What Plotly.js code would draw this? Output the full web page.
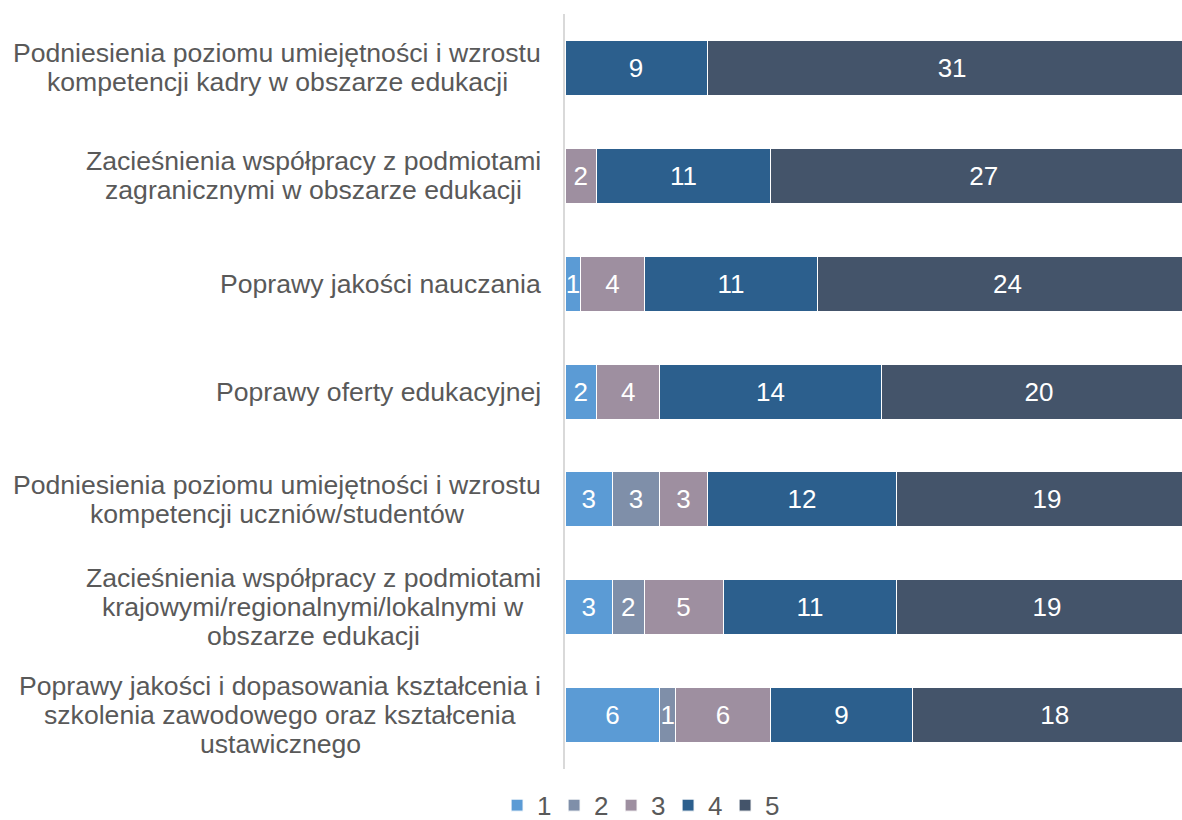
<!DOCTYPE html>
<html>
<head>
<meta charset="utf-8">
<script src="https://cdn.plot.ly/plotly-3.0.1.min.js"></script>
<style>
html, body { margin: 0; padding: 0; overflow: hidden; background: #ffffff; }
#chart { width: 1200px; height: 820px; }
</style>
</head>
<body>
<div id="chart"></div>
<script>
// Category labels (lines as wrapped in the reference)
const categoryLines = [
  ["Podniesienia poziomu umiejętności i wzrostu", "kompetencji kadry w obszarze edukacji"],
  ["Zacieśnienia współpracy z podmiotami", "zagranicznymi w obszarze edukacji"],
  ["Poprawy jakości nauczania"],
  ["Poprawy oferty edukacyjnej"],
  ["Podniesienia poziomu umiejętności i wzrostu", "kompetencji uczniów/studentów"],
  ["Zacieśnienia współpracy z podmiotami", "krajowymi/regionalnymi/lokalnymi w", "obszarze edukacji"],
  ["Poprawy jakości i dopasowania kształcenia i", "szkolenia zawodowego oraz kształcenia", "ustawicznego"]
];
const categories = categoryLines.map(l => l.join(" "));

const seriesNames = ["1", "2", "3", "4", "5"];
const s1 = [null, null, 1, 2, 3, 3, 6];
const s2 = [null, null, null, null, 3, 2, 1];
const s3 = [null, 2, 4, 4, 3, 5, 6];
const s4 = [9, 11, 11, 14, 12, 11, 9];
const s5 = [31, 27, 24, 20, 19, 19, 18];
const seriesValues = [s1, s2, s3, s4, s5];
const colors = ["#5B9BD5", "#7F8FA9", "#9E8FA0", "#2C5F8D", "#44546A"];

const FONT = '"Liberation Sans", Arial, sans-serif';

const traces = seriesValues.map((vals, i) => ({
  type: "bar",
  orientation: "h",
  name: seriesNames[i],
  y: categories,
  x: vals,
  marker: { color: colors[i], line: { color: "#ffffff", width: 1 } },
  texttemplate: "%{x}",
  textposition: "inside",
  insidetextanchor: "middle",
  constraintext: "none",
  textfont: { color: "#ffffff", size: 26, family: FONT },
  hoverinfo: "skip"
}));

// Category labels: each line centered within its block, right edge near the axis
const canvas = document.createElement("canvas");
const ctx = canvas.getContext("2d");
const labelSize = 26.6;
ctx.font = labelSize + 'px "Liberation Sans"';
const lineStep = 29;
const rightGap = 24;
const annotations = [];
categoryLines.forEach((lines, ci) => {
  const maxW = Math.max(...lines.map(t => ctx.measureText(t).width));
  const n = lines.length;
  lines.forEach((t, li) => {
    annotations.push({
      xref: "paper", yref: "y",
      x: 0, y: categories[ci],
      xanchor: "center", yanchor: "middle",
      xshift: -rightGap - maxW / 2,
      yshift: ((n - 1) / 2 - li) * lineStep,
      text: t, showarrow: false,
      font: { size: labelSize, color: "#595959", family: FONT }
    });
  });
});

const layout = {
  width: 1200, height: 820,
  margin: { l: 565, r: 3, t: 14, b: 51, pad: 0, autoexpand: false },
  paper_bgcolor: "#ffffff", plot_bgcolor: "#ffffff",
  barmode: "stack",
  bargap: 0.49,
  showlegend: true,
  legend: {
    orientation: "h",
    x: 0.118, xanchor: "center",
    y: -0.048, yanchor: "middle",
    font: { size: 26, color: "#595959", family: FONT },
    itemwidth: 30,
    entrywidth: 12,
    traceorder: "normal"
  },
  xaxis: {
    range: [0, 40], showgrid: false, zeroline: false,
    showticklabels: false, ticks: "", showline: false, fixedrange: true
  },
  yaxis: {
    type: "category", autorange: "reversed",
    showgrid: false, zeroline: false, showticklabels: false, ticks: "",
    showline: true, linecolor: "#D9D9D9", linewidth: 2, fixedrange: true
  },
  annotations: annotations
};

Plotly.newPlot("chart", traces, layout, { displayModeBar: false, staticPlot: true });
</script>
</body>
</html>
